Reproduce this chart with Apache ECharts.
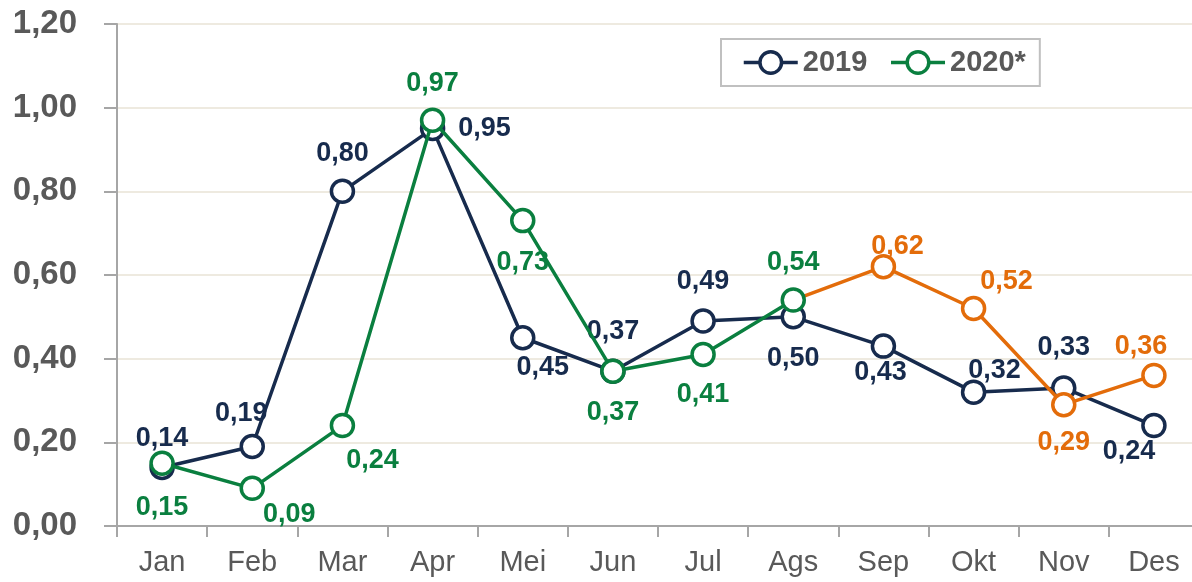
<!DOCTYPE html>
<html>
<head>
<meta charset="utf-8">
<script src="https://cdn.jsdelivr.net/npm/echarts@6/dist/echarts.min.js"></script>
<style>
  html, body { margin: 0; padding: 0; background: #ffffff; }
  #chart { width: 1192px; height: 582px; }
</style>
</head>
<body>
<div id="chart"></div>
<script>
// Monthly values
const months = ['Jan', 'Feb', 'Mar', 'Apr', 'Mei', 'Jun', 'Jul', 'Ags', 'Sep', 'Okt', 'Nov', 'Des'];
const values2019 = [0.14, 0.19, 0.80, 0.95, 0.45, 0.37, 0.49, 0.50, 0.43, 0.32, 0.33, 0.24];
const values2020 = [0.15, 0.09, 0.24, 0.97, 0.73, 0.37, 0.41, 0.54, null, null, null, null];
const values2020Proj = [null, null, null, null, null, null, null, 0.54, 0.62, 0.52, 0.29, 0.36];
const yTicks = [0, 0.2, 0.4, 0.6, 0.8, 1.0, 1.2];

// Label placement around each marker (dx, dy in px)
const off2019 = [[0,-29],[-11,-33],[0,-38],[52,0],[20,30],[0,-40],[0,-39],[0,42],[-3,26],[21,-22],[0,-40],[-25,26]];
const off2020 = [[0,44],[37,26],[30,35],[0,-37],[0,42],[0,41],[0,40],[0,-38],null,null,null,null];
const offProj = [null,null,null,null,null,null,null,null,[14,-20],[33,-27],[0,38],[-13,-29]];

const NAVY = '#172B4D', GREEN = '#0A7F3F', ORANGE = '#E36C0A', GREY = '#595959';
const FONT = "'Liberation Sans', Arial, sans-serif";
const fmt = v => v.toFixed(2).replace('.', ',');

function buildData(vals, offs, color, skipIndex) {
  return vals.map((v, i) => {
    if (v === null) return null;
    if (i === skipIndex) return { value: v, symbol: 'none', label: { show: false } };
    return { value: v, label: { offset: offs[i], color: color } };
  });
}

function lineSeries(name, vals, offs, color, z, skipIndex) {
  return {
    name: name,
    type: 'line',
    z: z,
    data: buildData(vals, offs, color, skipIndex),
    symbol: 'circle',
    symbolSize: 22,
    showAllSymbol: true,
    lineStyle: { color: color, width: 3.5 },
    itemStyle: { color: '#ffffff', borderColor: color, borderWidth: 3.5 },
    label: {
      show: true,
      position: 'inside',
      fontFamily: FONT,
      fontWeight: 'bold',
      fontSize: 27,
      color: color,
      formatter: p => fmt(p.value)
    },
    emphasis: { disabled: true },
    animation: false
  };
}

const chart = echarts.init(document.getElementById('chart'), null, { renderer: 'canvas' });
chart.setOption({
  animation: false,
  backgroundColor: '#ffffff',
  grid: { left: 117, top: 24, width: 1082, height: 502, containLabel: false, outerBoundsMode: 'none' },
  legend: {
    left: 721, top: 39,
    padding: [9, 14, 9, 21],
    itemGap: 22,
    itemWidth: 54,
    itemHeight: 27,
    borderColor: '#C0C0C0',
    borderWidth: 2,
    data: [
      { name: '2019', itemStyle: { color: '#fff', borderColor: NAVY, borderWidth: 3.5 }, lineStyle: { color: NAVY, width: 3.5 } },
      { name: '2020*', itemStyle: { color: '#fff', borderColor: GREEN, borderWidth: 3.5 }, lineStyle: { color: GREEN, width: 3.5 } }
    ],
    textStyle: { fontFamily: FONT, fontWeight: 'bold', fontSize: 29, color: GREY, padding: [0, 0, 0, 0] }
  },
  xAxis: {
    type: 'category',
    data: months,
    boundaryGap: true,
    axisLine: { lineStyle: { color: '#A6A6A6', width: 2 } },
    axisTick: { show: true, length: 11, lineStyle: { color: '#A6A6A6', width: 2 } },
    axisLabel: { margin: 22, fontFamily: FONT, fontSize: 29, color: GREY, interval: 0 }
  },
  yAxis: {
    type: 'value',
    min: yTicks[0],
    max: yTicks[yTicks.length - 1],
    interval: 0.2,
    axisLine: { show: true, lineStyle: { color: '#A6A6A6', width: 2 } },
    axisTick: { show: true, length: 13, lineStyle: { color: '#A6A6A6', width: 2 } },
    splitLine: { show: true, lineStyle: { color: '#EEEAE0', width: 2 } },
    axisLabel: { margin: 40, fontFamily: FONT, fontWeight: 'bold', fontSize: 33, color: GREY, formatter: v => fmt(v) }
  },
  series: [
    lineSeries('2019', values2019, off2019, NAVY, 2, -1),
    lineSeries('2020 proyeksi', values2020Proj, offProj, ORANGE, 3, 7),
    lineSeries('2020*', values2020, off2020, GREEN, 4, -1)
  ]
});
</script>
</body>
</html>
